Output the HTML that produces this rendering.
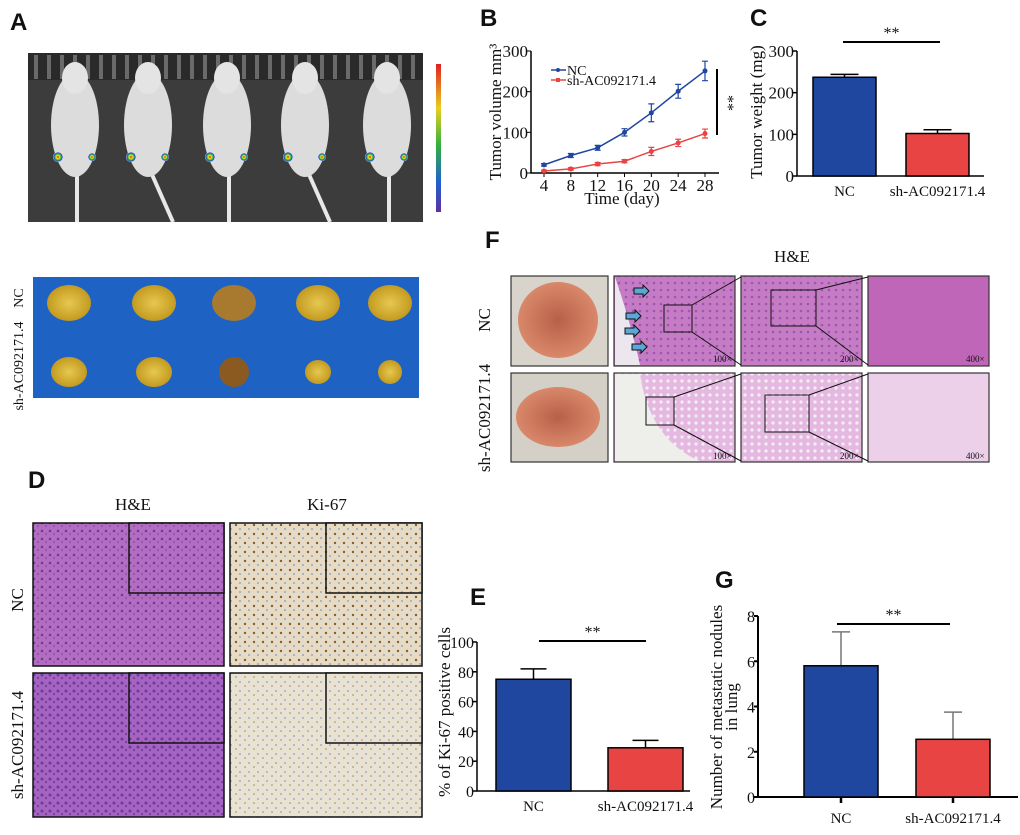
<!DOCTYPE html>
<html><head><meta charset="utf-8"><style>
body{margin:0;background:#fff;}
svg text{font-family:"Liberation Serif",serif;fill:#111;}
.lbl{font-family:"Liberation Sans",sans-serif;font-weight:bold;font-size:24px;}
</style></head><body>
<svg id="fig" width="1020" height="830" viewBox="0 0 1020 830" xmlns="http://www.w3.org/2000/svg">
<defs>
<linearGradient id="cbar" x1="0" y1="0" x2="0" y2="1"><stop offset="0" stop-color="#e02020"/><stop offset="0.3" stop-color="#e8d020"/><stop offset="0.55" stop-color="#30b040"/><stop offset="0.8" stop-color="#2060d0"/><stop offset="1" stop-color="#6030a0"/></linearGradient>
<radialGradient id="spot"><stop offset="0" stop-color="#e02020"/><stop offset="0.35" stop-color="#f0e020"/><stop offset="0.6" stop-color="#30c040"/><stop offset="0.85" stop-color="#2040d0"/><stop offset="1" stop-color="#fff"/></radialGradient>
<radialGradient id="tum"><stop offset="0" stop-color="#e6c850"/><stop offset="1" stop-color="#c49a20"/></radialGradient>
<radialGradient id="lung"><stop offset="0" stop-color="#b8604a"/><stop offset="1" stop-color="#d9886a"/></radialGradient>
<pattern id="he" width="8" height="8" patternUnits="userSpaceOnUse"><rect width="8" height="8" fill="#b46cc0"/><circle cx="2" cy="3" r="1.3" fill="#6a3c9a"/><circle cx="6" cy="6" r="1" fill="#8a50b0"/></pattern>
<pattern id="he2" width="8" height="8" patternUnits="userSpaceOnUse"><rect width="8" height="8" fill="#a862c0"/><circle cx="2" cy="3" r="1.5" fill="#6040a0"/><circle cx="6" cy="6" r="1.2" fill="#7048a8"/></pattern>
<pattern id="ki" width="9" height="9" patternUnits="userSpaceOnUse"><rect width="9" height="9" fill="#e6dcc6"/><circle cx="2" cy="3" r="1.2" fill="#8a5a30"/><circle cx="6" cy="7" r="1" fill="#a0a0c8"/></pattern>
<pattern id="ki2" width="9" height="9" patternUnits="userSpaceOnUse"><rect width="9" height="9" fill="#e8e2d2"/><circle cx="6" cy="7" r="1" fill="#a8a8cc"/><circle cx="2" cy="2" r="0.8" fill="#b08060"/></pattern>
<pattern id="lu1" width="7" height="7" patternUnits="userSpaceOnUse"><rect width="7" height="7" fill="#c67cc4"/><circle cx="3" cy="3" r="1.3" fill="#9a58b0"/></pattern>
<pattern id="lu2" width="7" height="7" patternUnits="userSpaceOnUse"><rect width="7" height="7" fill="#e4b8e0"/><circle cx="3" cy="3" r="1.6" fill="#f6eef6"/></pattern>
</defs>

<text class="lbl" x="10" y="30">A</text>
<text class="lbl" x="480" y="26">B</text>
<text class="lbl" x="750" y="26">C</text>
<text class="lbl" x="28" y="488">D</text>
<text class="lbl" x="470" y="605">E</text>
<text class="lbl" x="485" y="248">F</text>
<text class="lbl" x="715" y="588">G</text>

<g>
<rect x="28" y="53" width="395" height="169" fill="#3c3c3c"/>
<rect x="28" y="53" width="395" height="27" fill="#2a2a2a"/>
<g id="bars" fill="#777"></g>
<g id="mice"></g>
<rect x="436" y="64" width="5" height="148" fill="url(#cbar)"/>
</g>
<g>
<rect x="33" y="277" width="386" height="121" fill="#1e62c4"/>
<g id="tumors"></g>
</g>
<text transform="translate(23,298) rotate(-90)" text-anchor="middle" font-size="14">NC</text>
<text transform="translate(23,366) rotate(-90)" text-anchor="middle" font-size="14">sh-AC092171.4</text>

<text x="133" y="510" text-anchor="middle" font-size="17">H&amp;E</text>
<text x="327" y="510" text-anchor="middle" font-size="17">Ki-67</text>
<g stroke="#111" stroke-width="1.5">
<rect x="33" y="523" width="191" height="143" fill="url(#he)"/>
<rect x="129" y="523" width="95" height="70" fill="url(#he)"/>
<rect x="33" y="673" width="191" height="144" fill="url(#he2)"/>
<rect x="129" y="673" width="95" height="70" fill="url(#he2)"/>
<rect x="230" y="523" width="192" height="143" fill="url(#ki)"/>
<rect x="326" y="523" width="96" height="70" fill="url(#ki)"/>
<rect x="230" y="673" width="192" height="144" fill="url(#ki2)"/>
<rect x="326" y="673" width="96" height="70" fill="url(#ki2)"/>
</g>
<text transform="translate(23,600) rotate(-90)" text-anchor="middle" font-size="17">NC</text>
<text transform="translate(23,745) rotate(-90)" text-anchor="middle" font-size="17">sh-AC092171.4</text>

<text x="792" y="262" text-anchor="middle" font-size="17">H&amp;E</text>
<text transform="translate(490,320) rotate(-90)" text-anchor="middle" font-size="17">NC</text>
<text transform="translate(490,418) rotate(-90)" text-anchor="middle" font-size="17">sh-AC092171.4</text>
<g stroke="#333" stroke-width="1.2">
<rect x="511" y="276" width="97" height="90" fill="#d8d4cc"/>
<rect x="511" y="373" width="97" height="89" fill="#d4d0c8"/>
<rect x="614" y="276" width="121" height="90" fill="url(#lu1)"/>
<rect x="614" y="373" width="121" height="89" fill="url(#lu2)"/>
<rect x="741" y="276" width="121" height="90" fill="url(#lu1)"/>
<rect x="741" y="373" width="121" height="89" fill="url(#lu2)"/>
<rect x="868" y="276" width="121" height="90" fill="#c066b8"/>
<rect x="868" y="373" width="121" height="89" fill="#ecd0ea"/>
</g>
<ellipse cx="558" cy="320" rx="40" ry="38" fill="url(#lung)"/>
<ellipse cx="558" cy="417" rx="42" ry="30" fill="url(#lung)"/>
<path d="M615,277 Q630,320 640,365 L615,365Z" fill="#ece6ee"/>
<path d="M615,374 L615,461 L700,461 Q650,440 640,374Z" fill="#eeeeea"/>
<g fill="none" stroke="#111" stroke-width="1">
<rect x="664" y="305" width="28" height="27"/><line x1="692" y1="305" x2="741" y2="277"/><line x1="692" y1="332" x2="741" y2="365"/>
<rect x="771" y="290" width="45" height="36"/><line x1="816" y1="290" x2="868" y2="277"/><line x1="816" y1="326" x2="868" y2="365"/>
<rect x="646" y="397" width="28" height="28"/><line x1="674" y1="397" x2="741" y2="374"/><line x1="674" y1="425" x2="741" y2="461"/>
<rect x="765" y="395" width="44" height="37"/><line x1="809" y1="395" x2="868" y2="374"/><line x1="809" y1="432" x2="868" y2="461"/>
</g>
<g fill="#5aa8d8" stroke="#111" stroke-width="1">
<path d="M634,288 h9 v-3 l6,6 l-6,6 v-3 h-9z"/><path d="M626,313 h9 v-3 l6,6 l-6,6 v-3 h-9z"/>
<path d="M625,328 h9 v-3 l6,6 l-6,6 v-3 h-9z"/><path d="M632,344 h9 v-3 l6,6 l-6,6 v-3 h-9z"/>
</g>
<g font-size="9" fill="#333">
<text x="713" y="362">100×</text><text x="840" y="362">200×</text><text x="966" y="362">400×</text>
<text x="713" y="459">100×</text><text x="840" y="459">200×</text><text x="966" y="459">400×</text>
</g>

<g id="charts"></g>
</svg>
<script>
const NS="http://www.w3.org/2000/svg";
const fig=document.getElementById('charts');
function el(tag,attrs,parent){const e=document.createElementNS(NS,tag);for(const k in attrs)e.setAttribute(k,attrs[k]);(parent||fig).appendChild(e);return e;}
function txt(s,attrs,parent){const e=el('text',attrs,parent);e.textContent=s;return e;}

const mouseX=[75,148,227,305,387];
const mg=document.getElementById('mice'), bg=document.getElementById('bars');
for(let x=34;x<423;x+=13){el('rect',{x:x,y:55,width:4,height:24,fill:'#6a6a6a'},bg);}
mouseX.forEach((x,i)=>{
 el('line',{x1:x+2,y1:170,x2:x+(i%2?25:2),y2:222,stroke:'#e8e8e8','stroke-width':4},mg);
 el('ellipse',{cx:x,cy:125,rx:24,ry:52,fill:'#dcdcdc'},mg);
 el('ellipse',{cx:x,cy:78,rx:13,ry:16,fill:'#e4e4e4'},mg);
 el('ellipse',{cx:x-17,cy:157,rx:5,ry:5,fill:'url(#spot)'},mg);
 el('ellipse',{cx:x+17,cy:157,rx:4,ry:4,fill:'url(#spot)'},mg);
});
const tumX=[69,154,234,318,390], tg=document.getElementById('tumors');
tumX.forEach((x,i)=>{
 el('ellipse',{cx:x,cy:303,rx:22,ry:18,fill:i==2?'#a87a30':'url(#tum)'},tg);
 el('ellipse',{cx:x,cy:372,rx:[18,18,15,13,12][i],ry:[15,15,15,12,12][i],fill:i==2?'#8a5a20':'url(#tum)'},tg);
});

// Panel B data
const bDays=[4,8,12,16,20,24,28];
const bNC=[20,43,62,100,148,201,251];
const bNCerr=[3,5,6,9,22,17,24];
const bSH=[5,10,22,29,53,74,97];
const bSHerr=[2,3,4,4,10,9,11];
const bYTicks=[0,100,200,300];
// Panel C data
const cCats=['NC','sh-AC092171.4'];
const cVals=[237,102];
const cErr=[7,9];
const cYTicks=[0,100,200,300];
// Panel E data
const eCats=['NC','sh-AC092171.4'];
const eVals=[75,29];
const eErr=[7,5];
const eYTicks=[0,20,40,60,80,100];
// Panel G data
const gCats=['NC','sh-AC092171.4'];
const gVals=[5.8,2.55];
const gErr=[1.5,1.2];
const gYTicks=[0,2,4,6,8];

const BLUE='#1f47a0', RED='#e84444';

(function(){
 const x0=531,x1=719,yTop=51,yBot=173;
 const xs=d=>544+(d-4)*(705-544)/24, ys=v=>yBot-v*(yBot-yTop)/300;
 const g=el('g',{});
 
 
 const ax=el('path',{d:`M${x0},${yTop} V${yBot} H${x1}`,stroke:'#000','stroke-width':1.5,fill:'none'},g);
 
 
 bYTicks.forEach(t=>{el('line',{x1:x0-4,x2:x0,y1:ys(t),y2:ys(t),stroke:'#000'},g);
  const tl=txt(t,{x:x0-3,y:ys(t)+6,'text-anchor':'end','font-size':17},g);
  
  });
 bDays.forEach(d=>{el('line',{x1:xs(d),x2:xs(d),y1:yBot,y2:yBot+4,stroke:'#000'},g);
  const tl=txt(d,{x:xs(d),y:yBot+18,'text-anchor':'middle','font-size':17},g);
  
  });
 [[bNC,bNCerr,BLUE,'nc'],[bSH,bSHerr,RED,'sh']].forEach(([v,e,c,n])=>{
  const p=el('polyline',{points:bDays.map((d,i)=>xs(d)+','+ys(v[i])).join(' '),fill:'none',stroke:c,'stroke-width':1.5},g);
  
  
  bDays.forEach((d,i)=>{
   el('path',{d:`M${xs(d)-3},${ys(v[i]+e[i])}h6M${xs(d)},${ys(v[i]+e[i])}V${ys(v[i]-e[i])}M${xs(d)-3},${ys(v[i]-e[i])}h6`,stroke:c,'stroke-width':1.2,fill:'none'},g);
   const pt=el('circle',{cx:xs(d),cy:ys(v[i]),r:2.5,fill:c},g);
   
   
  });
 });
 el('line',{x1:551,x2:566,y1:70,y2:70,stroke:BLUE,'stroke-width':1.5},g);el('circle',{cx:558,cy:70,r:2,fill:BLUE},g);
 const l1=txt('NC',{x:567,y:75,'font-size':14},g);
 
 
 el('line',{x1:551,x2:566,y1:80,y2:80,stroke:RED,'stroke-width':1.5},g);el('rect',{x:556,y:78,width:4,height:4,fill:RED},g);
 const l2=txt('sh-AC092171.4',{x:567,y:85,'font-size':14},g);
 
 
 el('line',{x1:717,x2:717,y1:69,y2:135,stroke:'#000','stroke-width':2},g);
 txt('**',{transform:'translate(723,103) rotate(90)','text-anchor':'middle','font-size':16},g);
 const yt=txt('Tumor volume mm³',{transform:'translate(501,112) rotate(-90)','text-anchor':'middle','font-size':17},g);
 
 
 const xt=txt('Time (day)',{x:622,y:204,'text-anchor':'middle','font-size':17},g);
 
 
})();

function barChart(o){
 const g=el('g',{});
 
 
 const ys=v=>o.yBot-v*(o.yBot-o.yTop)/o.max;
 const ax=el('path',{d:`M${o.x0},${o.yTop} V${o.yBot} H${o.x1}`,stroke:'#000','stroke-width':o.aw||1.5,fill:'none'},g);
 
 
 o.ticks.forEach(t=>{el('line',{x1:o.x0-4,x2:o.x0,y1:ys(t),y2:ys(t),stroke:'#000','stroke-width':o.aw||1.5},g);
  const tl=txt(t,{x:o.x0-3,y:ys(t)+6,'text-anchor':'end','font-size':o.tf||17},g);
  
  });
 o.vals.forEach((v,i)=>{
  const bx=o.bx[i], c=i?RED:BLUE, top=ys(v+o.err[i]);
  el('path',{d:`M${bx+o.bw/2},${ys(v)}V${top}`+(o.cap?`M${bx+o.bw/2-o.cap},${top}h${2*o.cap}`:''),stroke:o.errc||'#000','stroke-width':1.5,fill:'none'},g);
  const r=el('rect',{x:bx,y:ys(v),width:o.bw,height:o.yBot-ys(v),fill:c,stroke:'#000','stroke-width':1.5},g);
  
  
  if(o.tickx)el('line',{x1:bx+o.bw/2,x2:bx+o.bw/2,y1:o.yBot,y2:o.yBot+6,stroke:'#000','stroke-width':2.5},g);
  const xl=txt(o.cats[i],{x:bx+o.bw/2,y:o.labY,'text-anchor':'middle','font-size':15},g);
  
  
 });
 el('line',{x1:o.sig[0],x2:o.sig[1],y1:o.sig[2],y2:o.sig[2],stroke:'#000','stroke-width':2},g);
 txt('**',{x:(o.sig[0]+o.sig[1])/2,y:o.sig[2]-4,'text-anchor':'middle','font-size':16},g);
 o.ylab.forEach((s,k)=>{const t=txt(s,{transform:`translate(${o.ylx+k*15},${o.yly}) rotate(-90)`,'text-anchor':'middle','font-size':17},g);
  
  });
}
barChart({name:'tumor-weight-chart',x0:797,x1:984,yTop:51,yBot:176,max:300,ticks:cYTicks,vals:cVals,err:cErr,cats:cCats,bx:[813,906],bw:63,cap:14,labY:196,sig:[843,940,42],ylab:['Tumor weight (mg)'],ylx:762,yly:112});
barChart({name:'ki67-chart',x0:477,x1:690,yTop:642,yBot:791,max:100,ticks:eYTicks,vals:eVals,err:eErr,cats:eCats,bx:[496,608],bw:75,cap:13,labY:811,sig:[539,646,641],ylab:['% of Ki-67 positive cells'],ylx:450,yly:712,tf:16});
barChart({name:'nodules-chart',x0:758,x1:1018,yTop:616,yBot:797,max:8,ticks:gYTicks,vals:gVals,err:gErr,cats:gCats,bx:[804,916],bw:74,cap:9,errc:'#777',tickx:true,labY:823,sig:[837,950,624],ylab:['Number of metastatic nodules','in lung'],ylx:722,yly:707,aw:2,tf:16});
</script>
</body></html>
